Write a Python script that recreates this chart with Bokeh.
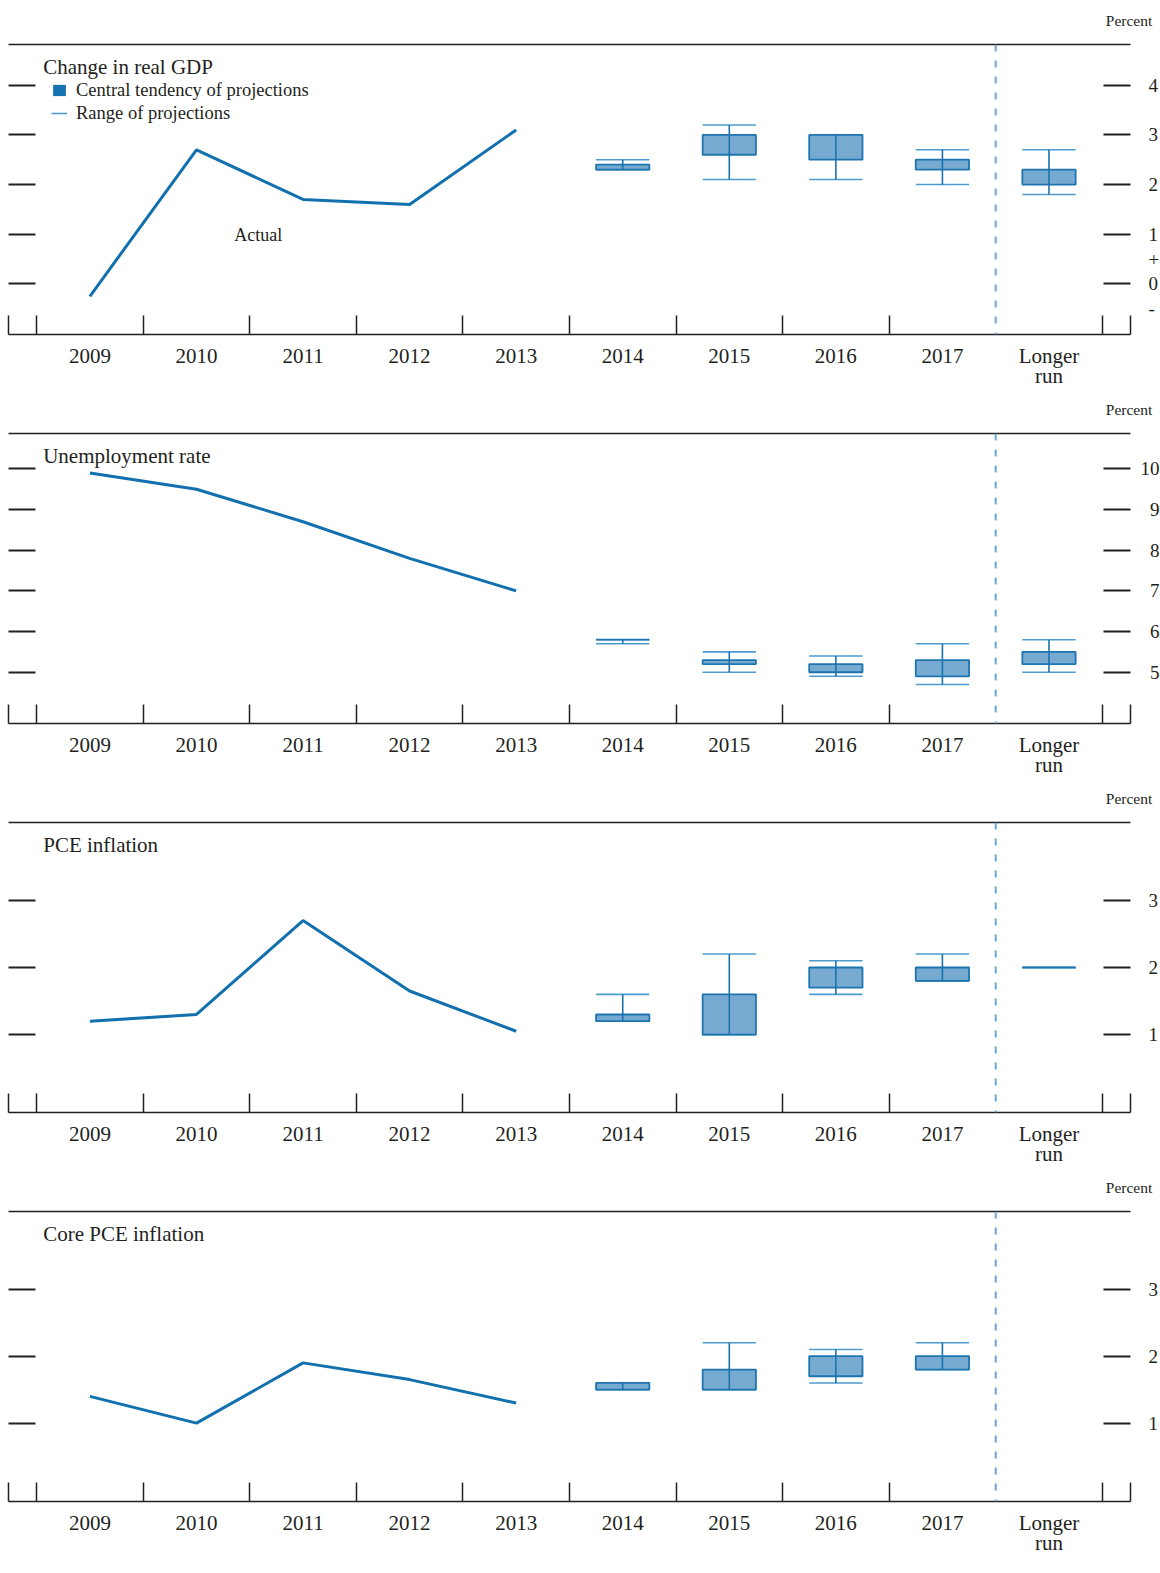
from bokeh.plotting import figure
from bokeh.models import (FixedTicker, LinearAxis, Range1d, Span, Label, Legend,
                          LegendItem, ColumnDataSource)
from bokeh.layouts import column
from bokeh.embed import file_html
from bokeh.resources import INLINE

FONT = "Liberation Serif"
TEXT = "#231f20"
LINE = "#1170ad"
BOX_FILL = "#77aad1"
BOX_LINE = "#1d75b0"
STEM = "#1a73ad"
CAP = "#4d9ccf"
DASH = "#6aa6d6"
LEGEND_SQ = "#1673b0"
NAN = float("nan")

# ---------------- data ----------------
categories = ["2009", "2010", "2011", "2012", "2013", "2014", "2015", "2016", "2017", "Longer run"]
actual_years = ["2009", "2010", "2011", "2012", "2013"]
proj_years = ["2014", "2015", "2016", "2017", "Longer run"]

gdp_actual = [-0.25, 2.7, 1.7, 1.6, 3.1]
gdp_ct_lo = [2.3, 2.6, 2.5, 2.3, 2.0]
gdp_ct_hi = [2.4, 3.0, 3.0, 2.5, 2.3]
gdp_r_lo = [2.3, 2.1, 2.1, 2.0, 1.8]
gdp_r_hi = [2.5, 3.2, 3.0, 2.7, 2.7]
gdp_ticks = [0, 1, 2, 3, 4]
gdp_sign_ticks = [0.5, -0.5]
gdp_sign_labels = ["+", "-"]

unemp_actual = [9.9, 9.5, 8.7, 7.8, 7.0]
unemp_ct_lo = [5.8, 5.2, 5.0, 4.9, 5.2]
unemp_ct_hi = [5.8, 5.3, 5.2, 5.3, 5.5]
unemp_r_lo = [5.7, 5.0, 4.9, 4.7, 5.0]
unemp_r_hi = [5.8, 5.5, 5.4, 5.7, 5.8]
unemp_ticks = [5, 6, 7, 8, 9, 10]

pce_actual = [1.2, 1.3, 2.7, 1.65, 1.05]
pce_ct_lo = [1.2, 1.0, 1.7, 1.8, 2.0]
pce_ct_hi = [1.3, 1.6, 2.0, 2.0, 2.0]
pce_r_lo = [1.2, 1.0, 1.6, 1.8, 2.0]
pce_r_hi = [1.6, 2.2, 2.1, 2.2, 2.0]
pce_ticks = [1, 2, 3]

core_proj_years = ["2014", "2015", "2016", "2017"]
core_actual = [1.4, 1.0, 1.9, 1.65, 1.3]
core_ct_lo = [1.5, 1.5, 1.7, 1.8]
core_ct_hi = [1.6, 1.8, 2.0, 2.0]
core_r_lo = [1.5, 1.5, 1.6, 1.8]
core_r_hi = [1.6, 2.2, 2.1, 2.2]
core_ticks = [1, 2, 3]

X_START, X_END = -0.764, 9.765
FRAME_W, FRAME_H = 1122, 290
BOX_HALF = 0.25
PERCENT_X = 9.751          # centre of the "Percent" unit label (top axis)
divider_index = categories.index("2017")


def make_panel(title, actual, proj, ct_lo, ct_hi, r_lo, r_hi, y_range, y_ticks,
               first=False, pad_single=False, sign_ticks=(), sign_labels=()):
    p = figure(frame_width=FRAME_W, frame_height=FRAME_H,
               x_range=Range1d(X_START, X_END), y_range=Range1d(*y_range),
               x_axis_location="below", y_axis_location="right",
               tools="", toolbar_location=None, output_backend="svg",
               min_border_left=8, min_border_right=30,
               min_border_top=44 if first else 36, min_border_bottom=63)
    p.outline_line_color = None
    p.grid.visible = False
    p.background_fill_color = "white"
    p.border_fill_color = "white"

    # ---- x axis ----
    xa = p.xaxis[0]
    boundaries = [i - 0.5 for i in range(len(categories) + 1) if i != divider_index + 1]
    xa.ticker = FixedTicker(ticks=list(range(len(categories))),
                            minor_ticks=[X_START] + boundaries + [X_END])
    xa.major_label_overrides = {i: c.replace(" ", "\n") for i, c in enumerate(categories)}
    xa.major_tick_in = 0
    xa.major_tick_out = 0
    xa.minor_tick_in = 19
    xa.minor_tick_out = 0
    xa.minor_tick_line_color = "#231f20"
    xa.minor_tick_line_width = 1.5
    xa.axis_line_color = "#231f20"
    xa.axis_line_width = 1.5
    xa.major_label_text_font = FONT
    xa.major_label_text_font_size = "21px"
    xa.major_label_text_color = TEXT
    xa.major_label_standoff = 9
    xa.major_label_text_line_height = 0.87

    # ---- right tick marks (no labels) ----
    ya = p.yaxis[0]
    ya.ticker = FixedTicker(ticks=y_ticks)
    ya.major_tick_in = 27
    ya.major_tick_out = 0
    ya.major_tick_line_width = 2
    ya.major_tick_line_color = "#231f20"
    ya.minor_tick_line_color = None
    ya.axis_line_color = None
    ya.major_label_overrides = {t: "" for t in y_ticks}
    ya.major_label_text_color = None
    ya.major_label_standoff = 0

    # ---- right labels (no tick marks) ----
    lab_ticks = list(y_ticks) + list(sign_ticks)
    overrides = {}
    for t in y_ticks:
        overrides[t] = ("\u2007" + str(t)) if (pad_single and t < 10) else str(t)
    for t, s in zip(sign_ticks, sign_labels):
        overrides[t] = s
    ra = LinearAxis(ticker=FixedTicker(ticks=lab_ticks), major_tick_line_color=None,
                    minor_tick_line_color=None, axis_line_color=None,
                    major_label_overrides=overrides,
                    major_label_standoff=4 if pad_single else 12,
                    major_label_text_font=FONT, major_label_text_font_size="19px",
                    major_label_text_color=TEXT)
    p.add_layout(ra, "right")

    # ---- left tick marks ----
    la = LinearAxis(ticker=FixedTicker(ticks=y_ticks), major_tick_in=27, major_tick_out=0,
                    major_tick_line_width=2, major_tick_line_color="#231f20",
                    minor_tick_line_color=None, axis_line_color=None,
                    major_label_overrides={t: "" for t in y_ticks},
                    major_label_text_color=None, major_label_standoff=0)
    p.add_layout(la, "left")

    # ---- top rule with the unit label ----
    ta = LinearAxis(ticker=FixedTicker(ticks=[PERCENT_X]), major_tick_line_color=None,
                    minor_tick_line_color=None, axis_line_color="#231f20",
                    axis_line_width=1.5, major_label_overrides={PERCENT_X: "Percent"},
                    major_label_standoff=10, major_label_text_font=FONT,
                    major_label_text_font_size="15.5px", major_label_text_color=TEXT)
    p.add_layout(ta, "above")

    # ---- divider ----
    p.add_layout(Span(location=divider_index + 0.5, dimension="height",
                      line_color=DASH, line_width=2, line_dash="7 9"))

    # ---- actual line ----
    ax = [categories.index(y) for y in actual_years]
    p.line(ax, actual, line_color=LINE, line_width=3)

    # ---- projections ----
    px = [categories.index(y) for y in proj]
    src = ColumnDataSource(dict(
        x=px, left=[v - BOX_HALF for v in px], right=[v + BOX_HALF for v in px],
        ct_lo=ct_lo, ct_hi=ct_hi, r_lo=r_lo, r_hi=r_hi))
    p.segment(x0="left", x1="right", y0="r_lo", y1="r_lo", source=src,
              line_color=CAP, line_width=1.6)
    p.segment(x0="left", x1="right", y0="r_hi", y1="r_hi", source=src,
              line_color=CAP, line_width=1.6)
    p.quad(left="left", right="right", bottom="ct_lo", top="ct_hi", source=src,
           fill_color=BOX_FILL, line_color=BOX_LINE, line_width=1.8)
    p.segment(x0="x", x1="x", y0="r_lo", y1="r_hi", source=src,
              line_color=STEM, line_width=1.6)

    # ---- title ----
    p.add_layout(Label(x=34.7, y=FRAME_H - 22, x_units="screen", y_units="screen",
                       text=title, text_font=FONT, text_font_size="21px",
                       text_color=TEXT, text_baseline="middle"))

    if first:
        sq = p.quad(left=[NAN], right=[NAN], top=[NAN], bottom=[NAN],
                    fill_color=LEGEND_SQ, line_color=None)
        rg = p.segment(x0=[NAN], x1=[NAN], y0=[NAN], y1=[NAN],
                       line_color=CAP, line_width=1.6)
        legend = Legend(items=[LegendItem(label="Central tendency of projections", renderers=[sq]),
                               LegendItem(label="Range of projections", renderers=[rg])],
                        location=(43, 210.5), glyph_width=16, glyph_height=14,
                        label_standoff=9, spacing=2, padding=0, margin=0,
                        label_height=21, border_line_color=None, background_fill_alpha=0,
                        label_text_font=FONT, label_text_font_size="18.5px",
                        label_text_color=TEXT)
        p.add_layout(legend, "center")
        p.add_layout(Label(x=1.58, y=0.98, text="Actual", text_font=FONT,
                           text_font_size="18px", text_color=TEXT,
                           text_align="center", text_baseline="middle"))
    return p


p1 = make_panel("Change in real GDP", gdp_actual, proj_years, gdp_ct_lo, gdp_ct_hi,
                gdp_r_lo, gdp_r_hi, (-1.02, 4.82), gdp_ticks, first=True,
                sign_ticks=gdp_sign_ticks, sign_labels=gdp_sign_labels)
p2 = make_panel("Unemployment rate", unemp_actual, proj_years, unemp_ct_lo, unemp_ct_hi,
                unemp_r_lo, unemp_r_hi, (3.74, 10.87), unemp_ticks, pad_single=True)
p3 = make_panel("PCE inflation", pce_actual, proj_years, pce_ct_lo, pce_ct_hi,
                pce_r_lo, pce_r_hi, (-0.16, 4.16), pce_ticks)
p4 = make_panel("Core PCE inflation", core_actual, core_proj_years, core_ct_lo, core_ct_hi,
                core_r_lo, core_r_hi, (-0.17, 4.16), core_ticks)

layout = column(p1, p2, p3, p4, spacing=0)
open("out.html", "w").write(file_html(layout, INLINE))
